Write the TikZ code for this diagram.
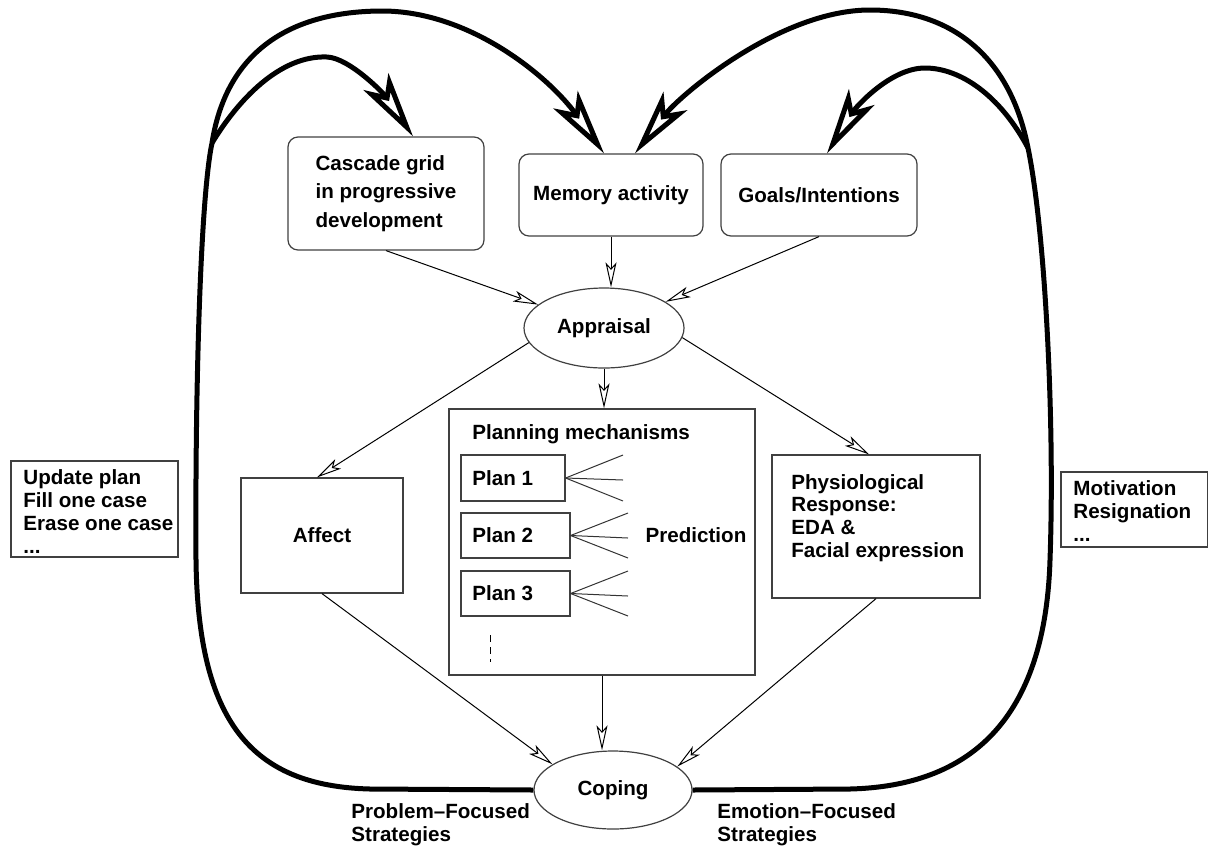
\documentclass[tikz,border=0pt]{standalone}
\usepackage{fontspec}
\setmainfont{Liberation Sans}
\usetikzlibrary{arrows.meta,shapes.geometric}
\begin{document}
\begin{tikzpicture}[x=0.5pt,y=-0.5pt,
  every node/.style={font=\bfseries\fontsize{10.3}{11.5}\selectfont},
  boxline/.style={draw=black!75, line width=0.6pt},
  rbox/.style={boxline, rectangle, rounded corners=5pt, inner sep=0pt},
  sbox/.style={boxline, rectangle, inner sep=0pt},
  ell/.style={boxline, ellipse, inner sep=0pt},
  txt/.style={inner sep=0pt, align=left},
  thinarrow/.style={line width=0.5pt, -{Stealth[open, length=12.5pt, width=5.5pt, inset=3pt]}},
  thickarrow/.style={line width=2.5pt, -{Stealth[open, fill=white, length=33pt, width=15pt, inset=8pt]}},
  fan/.style={line width=0.5pt, draw=black!80},
  dashline/.style={line width=0.5pt, dash pattern=on 3.5pt off 2.5pt}
]
\useasboundingbox (0,0) rectangle (1209,847);

% top boxes
\node[rbox, minimum width=98pt, minimum height=56.5pt, align=left,
      font=\bfseries\fontsize{10.3}{14.2}\selectfont] (cascade) at (386,193.5)
      {Cascade grid\\in progressive\\development};
\node[rbox, minimum width=92pt, minimum height=41pt] (memory) at (611,195) {Memory activity};
\node[rbox, minimum width=98pt, minimum height=41pt] (goals) at (819,195) {Goals/Intentions};

% appraisal
\node[ell, minimum width=80pt, minimum height=40pt] (appraisal) at (604,328) {Appraisal};

% affect
\node[sbox, minimum width=81pt, minimum height=57.5pt] (affect) at (322,535.5) {Affect};

% planning
\node[sbox, minimum width=153pt, minimum height=133pt] (planning) at (602,542) {};
\node[txt, anchor=west] (plantitle) at (472,434) {Planning mechanisms};
\node[sbox, minimum width=52pt, minimum height=23pt] (plan1) at (513,478) {};
\node[txt, anchor=west] (plan1t) at (472,478) {Plan 1};
\node[sbox, minimum width=54.5pt, minimum height=22.5pt] (plan2) at (515.5,535.5) {};
\node[txt, anchor=west] (plan2t) at (472,535.5) {Plan 2};
\node[sbox, minimum width=54.5pt, minimum height=22.5pt] (plan3) at (515.5,593.5) {};
\node[txt, anchor=west] (plan3t) at (472,593.5) {Plan 3};
\node[txt] (prediction) at (696,535) {Prediction};

\coordinate (f11) at (623,455); \coordinate (f12) at (623,480); \coordinate (f13) at (623,501);
\coordinate (f21) at (628,513); \coordinate (f22) at (628,538); \coordinate (f23) at (628,558);
\coordinate (f31) at (628,571); \coordinate (f32) at (628,596); \coordinate (f33) at (628,616);
\draw[fan] (plan1.east) -- (f11); \draw[fan] (plan1.east) -- (f12); \draw[fan] (plan1.east) -- (f13);
\draw[fan] (plan2.east) -- (f21); \draw[fan] (plan2.east) -- (f22); \draw[fan] (plan2.east) -- (f23);
\draw[fan] (plan3.east) -- (f31); \draw[fan] (plan3.east) -- (f32); \draw[fan] (plan3.east) -- (f33);
\coordinate (d1) at (490,635); \coordinate (d2) at (490,662);
\draw[dashline] (d1) -- (d2);

% physiological
\node[sbox, minimum width=104pt, minimum height=71.5pt] (physio) at (876,526.5) {};
\node[txt, anchor=west, font=\bfseries\fontsize{10.3}{11.4}\selectfont] (physiot) at (791,518)
      {Physiological\\Response:\\EDA \&\\Facial expression};

% side boxes
\node[sbox, minimum width=83.5pt, minimum height=48pt] (leftbox) at (94.5,509) {};
\node[txt, anchor=west] (leftt) at (23,512) {Update plan\\Fill one case\\Erase one case\\...};
\node[sbox, minimum width=73.25pt, minimum height=37.5pt] (rightbox) at (1134.25,509.5) {};
\node[txt, anchor=west] (rightt) at (1073,511.5) {Motivation\\Resignation\\...};

% coping
\node[ell, minimum width=79pt, minimum height=39pt] (coping) at (613,790) {Coping};
\node[txt, anchor=west] (pfs) at (351,825) {Problem\textendash Focused\\Strategies};
\node[txt, anchor=west] (efs) at (717,825) {Emotion\textendash Focused\\Strategies};

% thin connectors
\draw[thinarrow] (cascade.south) -- (appraisal);
\draw[thinarrow] (memory.south) -- (memory.south |- appraisal.north);
\draw[thinarrow] (goals.south) -- (appraisal);
\draw[thinarrow] (appraisal.191) -- ([xshift=-2.5pt]affect.north);
\draw[thinarrow] (appraisal.south) -- (appraisal.south |- planning.north);
\draw[thinarrow] (appraisal.353) -- ([xshift=-3.5pt]physio.north);
\draw[thinarrow] (affect.south) -- (coping.157);
\draw[thinarrow] (planning.south) -- (planning.south |- coping.north);
\draw[thinarrow] (physio.south) -- (coping.20);

% thick feedback loops
\draw[thickarrow] (coping.west) -- (370,789)
   .. controls (250,786) and (198,720) .. (196,560)
   .. controls (195,400) and (200,200) .. (212,143) coordinate (BL)
   .. controls (225,60) and (280,12) .. (380,11)
   .. controls (470,10) and (550,78) .. ([xshift=-3.5pt]memory.north);
\draw[thickarrow] (BL) .. controls (238,100) and (280,55) .. (327,57)
   .. controls (350,58) and (385,95) .. ([xshift=13.5pt]cascade.north);
\draw[thickarrow] (coping.east) -- (850,789)
   .. controls (970,786) and (1045,720) .. (1050,560)
   .. controls (1055,420) and (1045,230) .. (1028,148) coordinate (BR)
   .. controls (1010,55) and (950,10) .. (870,10)
   .. controls (780,10) and (680,95) .. ([xshift=12pt]memory.north);
\draw[thickarrow] (BR) .. controls (1000,95) and (960,68) .. (925,68)
   .. controls (890,68) and (855,108) .. ([xshift=4pt]goals.north);
\end{tikzpicture}
\end{document}
